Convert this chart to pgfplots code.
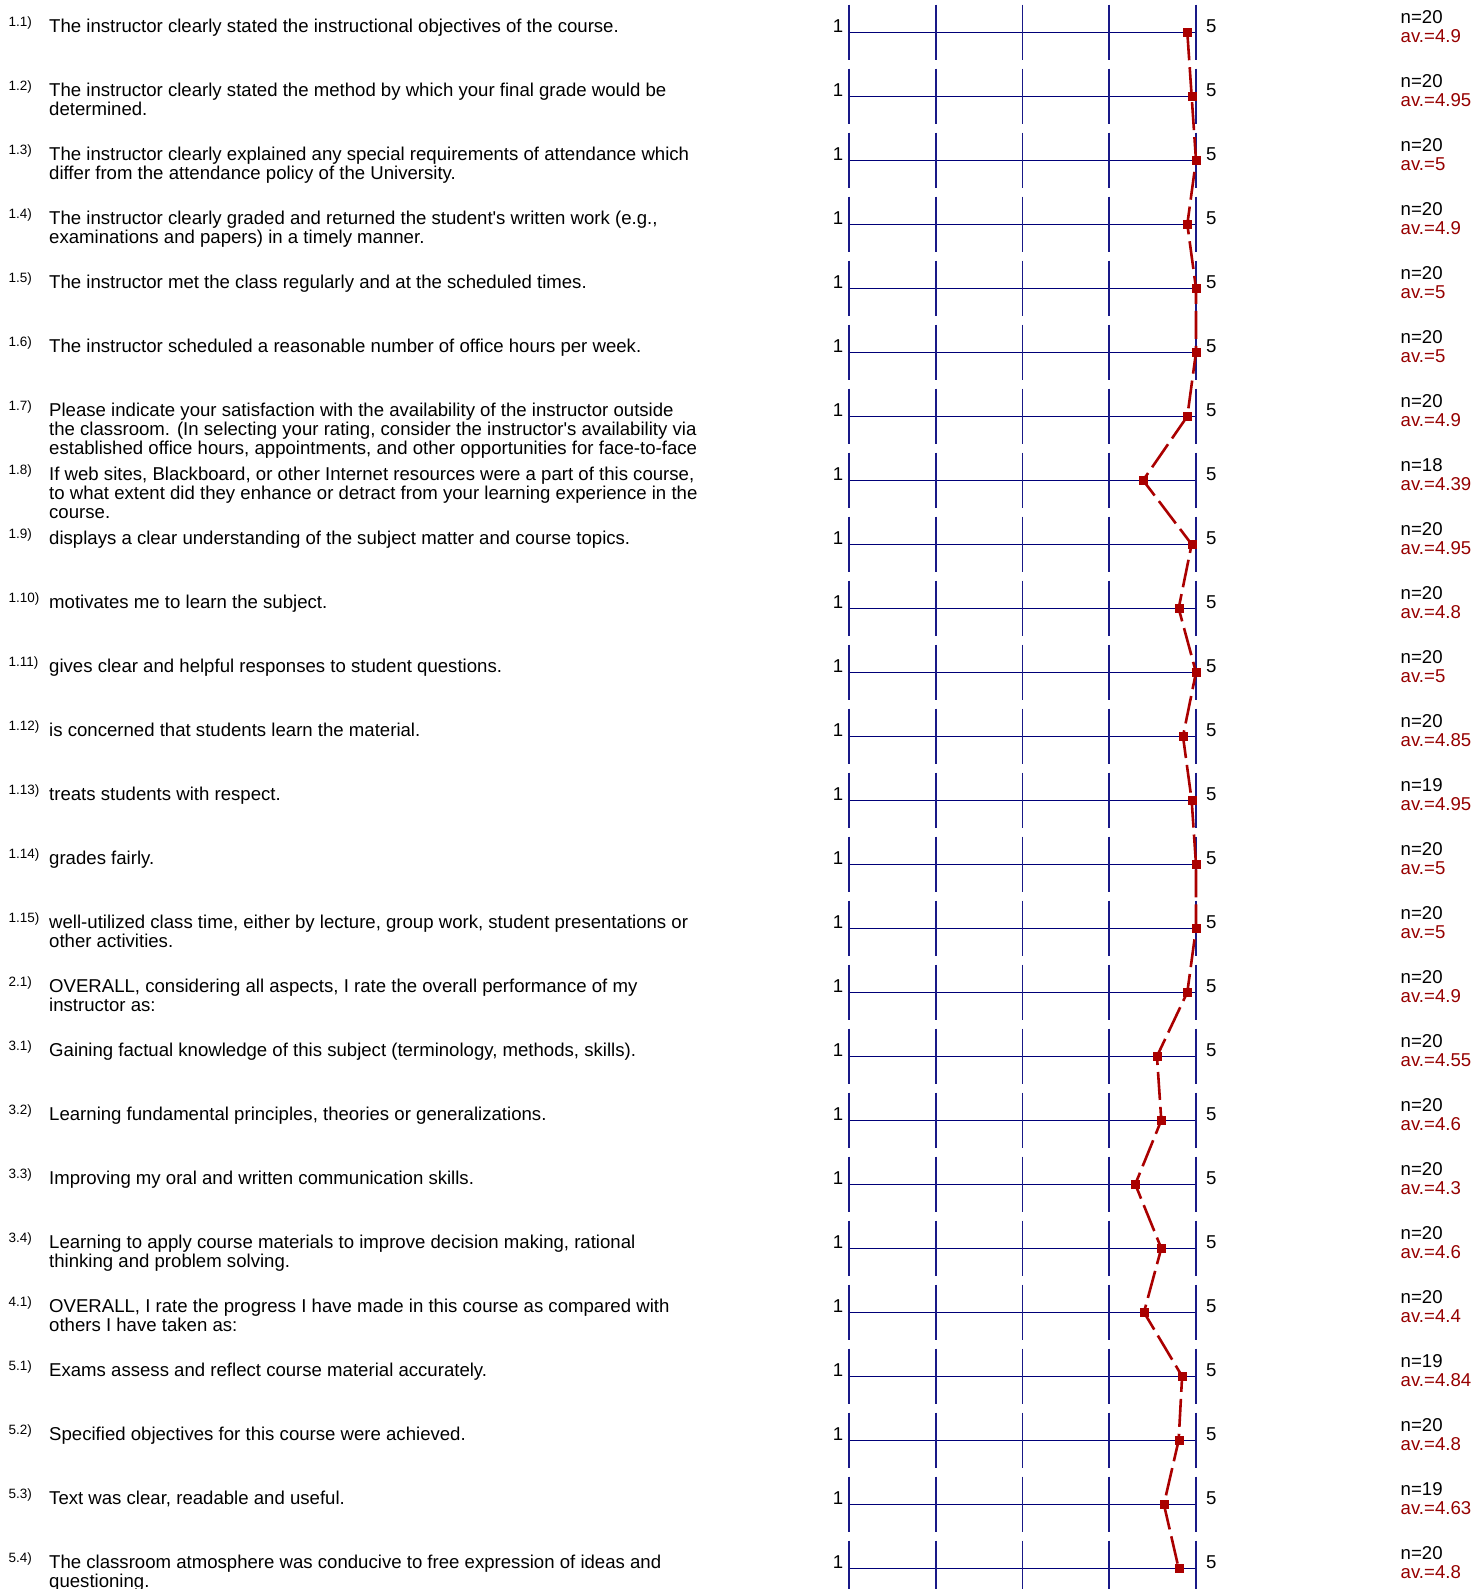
\documentclass[border=0pt]{standalone}
\usepackage{fontspec}
\setmainfont{Liberation Sans}
\usepackage{pgfplots}
\pgfplotsset{compat=1.18}
\definecolor{gridnavy}{RGB}{0,0,120}
\definecolor{vnavy}{RGB}{25,25,135}
\definecolor{mred}{RGB}{170,0,0}
\definecolor{avred}{RGB}{150,0,0}
\newcommand{\mainfs}{\fontsize{18.6}{19}\selectfont}
\newcommand{\smallfs}{\fontsize{13.5}{14}\selectfont}
\newcommand{\vseg}[2]{\draw[vnavy, line width=1.6pt] ([yshift=27.6pt]axis cs:#1,#2) -- ([yshift=-27.6pt]axis cs:#1,#2);}
\newcommand{\rowgrid}[1]{%
  \draw[gridnavy, line width=1.4pt] (axis cs:1,#1) -- (axis cs:5,#1);
  \vseg{1}{#1}\vseg{2}{#1}\vseg{3}{#1}\vseg{4}{#1}\vseg{5}{#1}
  \node[anchor=base east, inner sep=0pt, font=\mainfs] at ([xshift=-5.7pt]axis cs:1,#1) {1};
  \node[anchor=base west, inner sep=0pt, font=\mainfs] at ([xshift=10pt]axis cs:5,#1) {5};
}
\newcommand{\stat}[3]{%
  \node[anchor=base west, inner sep=0pt, font=\mainfs] at ([xshift=204.5pt, yshift=8.4pt]axis cs:5,#1) {n=#2};
  \node[anchor=base west, inner sep=0pt, font=\mainfs, text=avred] at ([xshift=204.5pt, yshift=-10.6pt]axis cs:5,#1) {av.=#3};
}
\newcommand{\qa}[3]{%
  \node[anchor=base west, inner sep=0pt, font=\smallfs] at ([xshift=-840.5pt, yshift=6pt]axis cs:1,#1) {#2};
  \node[anchor=base west, inner sep=0pt, font=\mainfs] at ([xshift=-800pt]axis cs:1,#1) {#3};
}
\newcommand{\qb}[4]{%
  \qa{#1}{#2}{#3}
  \node[anchor=base west, inner sep=0pt, font=\mainfs] at ([xshift=-800pt, yshift=-19pt]axis cs:1,#1) {#4};
}
\newcommand{\qc}[5]{%
  \qb{#1}{#2}{#3}{#4}
  \node[anchor=base west, inner sep=0pt, font=\mainfs] at ([xshift=-800pt, yshift=-38pt]axis cs:1,#1) {#5};
}
\begin{document}
\begin{tikzpicture}
\begin{axis}[
  at={(849pt,1556.7pt)}, anchor=north west,
  scale only axis, width=347pt, height=1536pt,
  xmin=1, xmax=5, ymin=1, ymax=25, y dir=reverse,
  hide axis, clip=false,
]
\pgfplotsinvokeforeach{1,...,25}{\rowgrid{#1}}

\addplot[mred, line width=2.6pt, dash pattern=on 28pt off 7pt,
  mark=square*, mark size=4pt,
  mark options={solid, fill=mred, draw=mred, line width=0.2pt}] table {
x y
4.9 1
4.95 2
5 3
4.9 4
5 5
5 6
4.9 7
4.39 8
4.95 9
4.8 10
5 11
4.85 12
4.95 13
5 14
5 15
4.9 16
4.55 17
4.6 18
4.3 19
4.6 20
4.4 21
4.84 22
4.8 23
4.63 24
4.8 25
};

\stat{1}{20}{4.9}
\stat{2}{20}{4.95}
\stat{3}{20}{5}
\stat{4}{20}{4.9}
\stat{5}{20}{5}
\stat{6}{20}{5}
\stat{7}{20}{4.9}
\stat{8}{18}{4.39}
\stat{9}{20}{4.95}
\stat{10}{20}{4.8}
\stat{11}{20}{5}
\stat{12}{20}{4.85}
\stat{13}{19}{4.95}
\stat{14}{20}{5}
\stat{15}{20}{5}
\stat{16}{20}{4.9}
\stat{17}{20}{4.55}
\stat{18}{20}{4.6}
\stat{19}{20}{4.3}
\stat{20}{20}{4.6}
\stat{21}{20}{4.4}
\stat{22}{19}{4.84}
\stat{23}{20}{4.8}
\stat{24}{19}{4.63}
\stat{25}{20}{4.8}

\qa{1}{1.1)}{The instructor clearly stated the instructional objectives of the course.}
\qb{2}{1.2)}{The instructor clearly stated the method by which your final grade would be}{determined.}
\qb{3}{1.3)}{The instructor clearly explained any special requirements of attendance which}{differ from the attendance policy of the University.}
\qb{4}{1.4)}{The instructor clearly graded and returned the student\textquotesingle s written work (e.g.,}{examinations and papers) in a timely manner.}
\qa{5}{1.5)}{The instructor met the class regularly and at the scheduled times.}
\qa{6}{1.6)}{The instructor scheduled a reasonable number of office hours per week.}
\qc{7}{1.7)}{Please indicate your satisfaction with the availability of the instructor outside}{the classroom. (In selecting your rating, consider the instructor\textquotesingle s availability via}{established office hours, appointments, and other opportunities for face-to-face}
\qc{8}{1.8)}{If web sites, Blackboard, or other Internet resources were a part of this course,}{to what extent did they enhance or detract from your learning experience in the}{course.}
\qa{9}{1.9)}{displays a clear understanding of the subject matter and course topics.}
\qa{10}{1.10)}{motivates me to learn the subject.}
\qa{11}{1.11)}{gives clear and helpful responses to student questions.}
\qa{12}{1.12)}{is concerned that students learn the material.}
\qa{13}{1.13)}{treats students with respect.}
\qa{14}{1.14)}{grades fairly.}
\qb{15}{1.15)}{well-utilized class time, either by lecture, group work, student presentations or}{other activities.}
\qb{16}{2.1)}{OVERALL, considering all aspects, I rate the overall performance of my}{instructor as:}
\qa{17}{3.1)}{Gaining factual knowledge of this subject (terminology, methods, skills).}
\qa{18}{3.2)}{Learning fundamental principles, theories or generalizations.}
\qa{19}{3.3)}{Improving my oral and written communication skills.}
\qb{20}{3.4)}{Learning to apply course materials to improve decision making, rational}{thinking and problem solving.}
\qb{21}{4.1)}{OVERALL, I rate the progress I have made in this course as compared with}{others I have taken as:}
\qa{22}{5.1)}{Exams assess and reflect course material accurately.}
\qa{23}{5.2)}{Specified objectives for this course were achieved.}
\qa{24}{5.3)}{Text was clear, readable and useful.}
\qb{25}{5.4)}{The classroom atmosphere was conducive to free expression of ideas and}{questioning.}
\end{axis}
\pgfresetboundingbox
\path[use as bounding box] (0,0) rectangle (1474pt,1589pt);
\end{tikzpicture}
\end{document}
